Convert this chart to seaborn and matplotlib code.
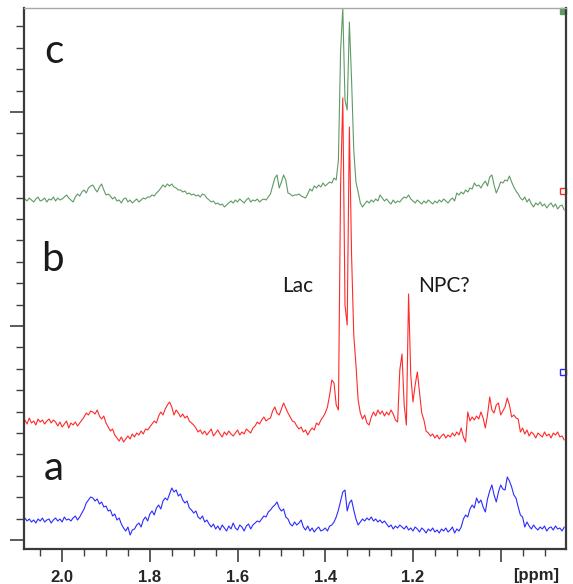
import matplotlib
matplotlib.use("Agg")
import matplotlib.pyplot as plt
from matplotlib.ticker import MultipleLocator, FixedLocator
import numpy as np
import pandas as pd
import seaborn as sns

# chemical shift grid: 2.085 ppm down, one value every 0.005 ppm
ppm_start = 2.085
ppm_step = 0.005

# trace a (blue), height above its own baseline
trace_a = [7, 4, 6, 3, 5, 2, 6, 4, 7, 3, 5, 6, 2, 5, 7, 4, 6, 3, 8, 5, 6, 4, 7, 9, 5, 8,
           12, 16, 22, 25, 28,
           27, 24, 26, 21, 23, 18,
           19, 14, 15, 9, 11, 5, 7, 1,
           -3, -6, -2, -10, -5,
           -4, 0, 2, -2, 5, 8, 4, 11, 14, 10, 17, 20, 16, 24, 27, 25, 31,
           37, 33,
           35, 29, 31, 25, 22, 24, 17, 15, 12, 14, 8, 6, 9, 3, 5, 1,
           -2, 1, -4, -1, -5, 0, -3, -6, -1, -4, 2, -3, -5, 0, -2, -6, -1, 1, -4, 0, 2, 4,
           3, 6, 9, 8, 13, 15, 18, 20, 23,
           17, 14, 16, 8, 6, 1,
           -1, 3, 0, 2, 5,
           -2, -5, -1, -6, -3, -7, -4, -2, -6, -5, -3, -6, -1, 0, 3,
           8, 15, 24, 33, 35, 14, 22, 25, 15, 6, 0,
           3, 6, 4, 7, 5, 8, 4, 6, 3, 5, 2, 4,
           1, -2, 0, -4, -1, -3, 0, -2, -4, -1, -5, -3, -6, -2, -4, -7, -3, -5, -8, -4,
           -6, -3, -7, -5, -8, -4, -6, -3, -7, -5, -2, -8, -4, -6, -2,
           6, 10, 8, 16, 20, 17, 27, 22, 25, 18, 13, 26, 34, 40, 30, 23, 33, 40, 36, 35,
           48, 44, 38, 30, 27, 18, 10, 8, -2, 3,
           -1, -4, 0, -3, -5, -2, -4, -1, -6, -3, -2, -5, -1, -4, -3, -6, -2]

# trace b (red)
trace_b = [5, 1, 7, 2, 4, 0, 6, 3, 5, 1, 4, 6, 2, 5, 3,
           -1, 3, -2, 1, 4, -3, 2, 0, 3, -1, 2,
           5, 8, 12, 10, 14, 13, 11, 15, 9,
           6, 9, 2, -2, -6, -4, -10,
           -13, -16, -12, -17, -14,
           -11, -14, -9, -12, -8, -10, -6, -9, -4, -5, -2,
           1, 4, 2, 9, 13, 10, 16, 20, 23,
           18, 10, 15, 12, 8, 11, 7, 9, 4, 2, 0, -3, -7, -5, -9,
           -6, -10, -7, -4, -11, -8, -5, -9, -12, -7, -10, -6, -9, -11, -8, -5, -10, -7,
           -9, -4, -6, -8, -3, -1,
           3, 1, 5, 8, 4, 6, 7, 14, 18, 12, 10, 16, 22, 17, 12, 8, 4,
           3, -1, -4, -2, -7, -5, -10, -6, -3, -5, 2, 0, 5, 8, 12, 18, 30, 45, 42, 20, 15,
           240, 327, 120, 100, 298, 170, 90, 60, 25, 12, 6, 10, 2, 0, 8, 13, 9, 15, 11, 14,
           9, 13, 10, 15, 11, 5, 3,
           55, 71, 20, 0, 131, 50, 23, 40, 53, 32, 12, 5, -6,
           -8, -11, -9, -13, -10, -14, -11, -9, -13, -10, -12, -8, -11, -7, -10, -3, -12,
           -17, 13, 4, 8, 5, 9, 6, 13, 7, -3, 10, 28, 15, 12, 20, 22, 10, 14, 18, 27, 20,
           8, 10, 7, 6, -7, -3, -9, -5, -11, -7, -9, -13, -8, -10, -12, -7, -11, -9, -13,
           -8, -10, -7, -12, -11, -15]

# trace c (green)
trace_c = [1, -1, 2, 0, -2, 1, 3, -1, 0, 2, -2, 1, 0, 3, -1, 2, 0, 1, 3,
           5, 2, 0, -2, 3, 6, 4,
           8, 10, 7, 12, 14, 15, 11, 8, 13, 16, 10, 5, 6,
           4, 1, 3, -1, 0, -3, 1, 2, -2, 0, -3, -1, 1, -2, 0, 2, 1, 3,
           3, 5, 4, 7, 9, 12, 15, 13, 16, 14, 16, 13, 12, 10,
           10, 8, 9, 6, 7, 5, 6, 4, 5, 3, 6, 5, 2, 0,
           -2, -1, -4, -3, -5, -4, -7, -5, -3,
           -1, -3, 0, -2, 1, -1, -3, 0, 2, -2, 0, -1, 1, -2, 0, 1, 0,
           3, 6, 14, 22, 25, 12, 18, 25, 20, 7, 6, 4, 5,
           5, 6, 4, 3, 2, 6, 11, 9, 14, 12, 15, 13, 17, 14, 16, 18, 17, 22, 20, 40,
           150, 192, 100, 90, 178, 120, 50, 18, 8, -3, -7,
           -4, -1, -3, 0, -2, 1, -1, 5, 2, -1, 1, -2, -4, 0, -3, -1, -2, 1, 3, 2,
           5, 1, -1, -3, 0, -2, -4, -1, -3, 0, -2, -4, -1, -3, 0, -2, 1, -1, -3, 0, 2, -1,
           7, 5, 8, 6, 10, 8, 12, 11, 17, 14, 15, 12, 16, 19, 14, 23, 25, 15, 7, 12,
           18, 17, 20, 19, 24, 18, 13, 9, 6, 2, 0, 3, -2, 1, -4, -7, -3, -5, -2, -6,
           -4, -8, -5, -3, -7, -4, -9, -6, -5, -10]

traces = [trace_a, trace_b, trace_c]
trace_names = ["a", "b", "c"]
baselines = [24, 124, 349]
trace_colors = ["#2b2bff", "#ff2a2a", "#5f9a66"]
scale_marks = [177, 358, 538]

rows = []
for name, vals, base in zip(trace_names, traces, baselines):
    ppm = ppm_start - ppm_step * np.arange(len(vals))
    for p, v in zip(ppm, vals):
        rows.append({"ppm": p, "signal": v + base, "trace": name})
df = pd.DataFrame(rows)

sns.set_style("ticks")
fig = plt.figure(figsize=(5.73, 5.84), dpi=100)
ax = fig.add_axes([24 / 573, 35 / 584, 542 / 573, 541 / 584])

sns.lineplot(data=df, x="ppm", y="signal", hue="trace",
             palette=dict(zip(trace_names, trace_colors)),
             estimator=None, linewidth=0.8, legend=False, ax=ax)

ax.set_xlim(2.087, 0.851)
ax.set_ylim(0, 541)

ax.xaxis.set_major_locator(FixedLocator([2.0, 1.8, 1.6, 1.4, 1.2, 1.0]))
ax.set_xticklabels(["2.0", "1.8", "1.6", "1.4", "1.2", ""])
ax.xaxis.set_minor_locator(MultipleLocator(0.05))
ax.yaxis.set_major_locator(FixedLocator([9, 223, 437]))
ax.yaxis.set_minor_locator(FixedLocator([9 + 21.4 * k for k in range(25)]))
ax.set_yticklabels([])
ax.set_xlabel("")
ax.set_ylabel("")

ax.tick_params(axis="x", which="major", length=9, width=1.2, color="#404040",
               pad=6, labelsize=12)
ax.tick_params(axis="x", which="minor", length=5, width=1.0, color="#404040")
ax.tick_params(axis="y", which="major", length=10, width=1.2, color="#404040")
ax.tick_params(axis="y", which="minor", length=6, width=1.0, color="#404040")
for lab in ax.get_xticklabels():
    lab.set_fontweight("bold")
    lab.set_family("Liberation Sans")

for side in ["left", "bottom", "right"]:
    ax.spines[side].set_color("#3a3a3a")
    ax.spines[side].set_linewidth(1.6)
ax.spines["top"].set_color("#a8a8a8")
ax.spines["top"].set_linewidth(1.0)

ax.text(0.945, -0.036, "[ppm]", transform=ax.transAxes, ha="center", va="top",
        fontsize=12, fontweight="bold", family="Liberation Sans")

# scale markers on the right edge
for y, c, filled in zip(scale_marks, trace_colors, [False, False, True]):
    ax.plot([0.857], [y], marker="s", markersize=5, clip_on=False,
            markerfacecolor=c if filled else "white", markeredgecolor=c,
            markeredgewidth=1.0)

# labels
for lbl, x, y in zip(["c", "b", "a"], [2.040, 2.048, 2.043], [486, 278, 69]):
    ax.text(x, y, lbl, fontsize=29, color="#1a1a1a", ha="left", va="baseline",
            family="Lato")
ax.text(1.498, 257, "Lac", fontsize=15, color="#1a1a1a", ha="left", va="baseline",
        family="Lato")
ax.text(1.188, 257, "NPC?", fontsize=15, color="#1a1a1a", ha="left", va="baseline",
        family="Lato")

fig.savefig("out.png", dpi=100)
